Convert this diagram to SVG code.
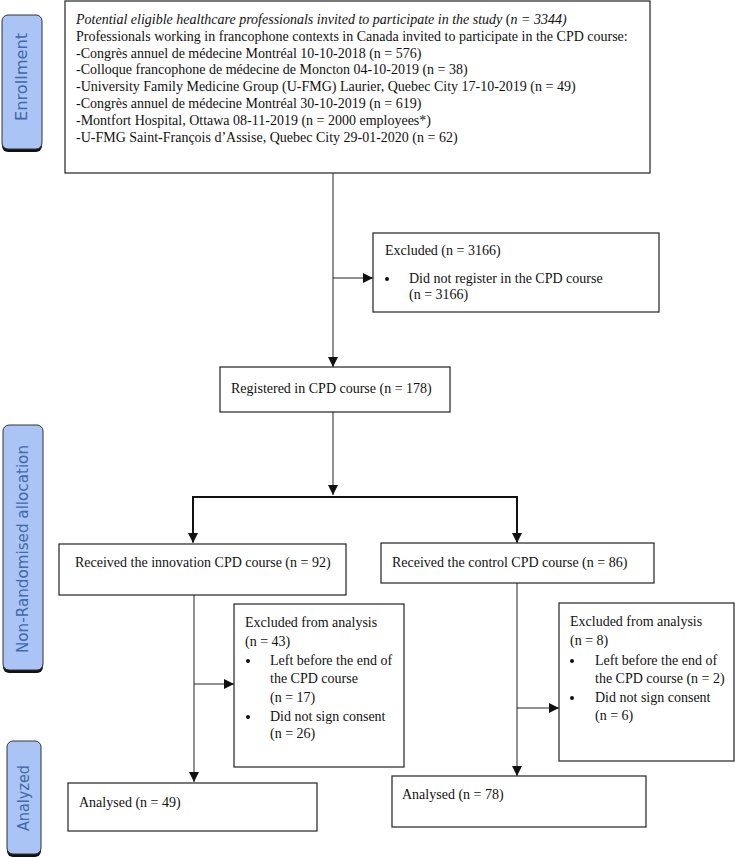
<svg xmlns="http://www.w3.org/2000/svg" width="735" height="858" viewBox="0 0 735 858">
<style>
.box{fill:#fff;stroke:#222;stroke-width:1.2}
.t{font-family:"Liberation Serif","Times New Roman",serif;font-size:14px;fill:#111}
.side{fill:#a9c4f5;stroke:#333;stroke-width:1}
.shadow{fill:#111}
.st{font-family:"DejaVu Sans",Verdana,sans-serif;font-size:15px;fill:#4468a8}
.ln{stroke:#222;stroke-width:1;fill:none}
.lnb{stroke:#111;stroke-width:2;fill:none}
.dot{fill:#111}
</style>
<defs>
<marker id="ah" markerUnits="userSpaceOnUse" markerWidth="10" markerHeight="10" viewBox="0 0 10 10" refX="10" refY="5" orient="auto">
<path d="M0,0 L10,5 L0,10 Z" fill="#111"/>
</marker>
</defs>
<rect width="735" height="858" fill="#fff"/>

<g id="label-enrollment">
<rect class="shadow" x="2" y="18" width="40" height="134" rx="6"/>
<rect class="side" x="2" y="15" width="40" height="134" rx="6"/>
<text class="st" transform="translate(27,121) rotate(-90)" textLength="88" lengthAdjust="spacingAndGlyphs">Enrollment</text>
</g>
<g id="label-allocation">
<rect class="shadow" x="3" y="429" width="40" height="244" rx="6"/>
<rect class="side" x="3" y="425" width="40" height="245" rx="6"/>
<text class="st" transform="translate(28,653) rotate(-90)" textLength="208" lengthAdjust="spacingAndGlyphs">Non-Randomised allocation</text>
</g>
<g id="label-analyzed">
<rect class="shadow" x="7" y="744" width="34" height="113" rx="6"/>
<rect class="side" x="7" y="741" width="34" height="113" rx="6"/>
<text class="st" transform="translate(29,831) rotate(-90)" textLength="66" lengthAdjust="spacingAndGlyphs">Analyzed</text>
</g>

<g id="connectors">
<line class="ln" x1="333" y1="173" x2="333" y2="367" marker-end="url(#ah)"/>
<line class="ln" x1="333" y1="278" x2="373" y2="278" marker-end="url(#ah)"/>
<line class="ln" x1="333" y1="412" x2="333" y2="495" marker-end="url(#ah)"/>
<polyline class="lnb" points="193,542 193,497 517,497 517,542"/>
<line class="ln" x1="193" y1="530" x2="193" y2="543" marker-end="url(#ah)"/>
<line class="ln" x1="517" y1="530" x2="517" y2="543" marker-end="url(#ah)"/>
<line class="ln" x1="194" y1="595" x2="194" y2="782" marker-end="url(#ah)"/>
<line class="ln" x1="194" y1="684" x2="234" y2="684" marker-end="url(#ah)"/>
<line class="ln" x1="517" y1="583" x2="517" y2="776" marker-end="url(#ah)"/>
<line class="ln" x1="517" y1="708" x2="559" y2="708" marker-end="url(#ah)"/>
</g>

<g id="node-invited">
<rect class="box" x="65" y="1" width="585" height="172"/>
<text class="t" x="76" y="24"><tspan font-style="italic">Potential eligible healthcare professionals invited to participate in the study </tspan>(<tspan font-style="italic">n = 3344)</tspan></text>
<text class="t" x="76" y="40.8">Professionals working in francophone contexts in Canada invited to participate in the CPD course:</text>
<text class="t" x="76" y="57.6">-Congrès annuel de médecine Montréal 10-10-2018 (n = 576)</text>
<text class="t" x="76" y="74.4">-Colloque francophone de médecine de Moncton 04-10-2019 (n = 38)</text>
<text class="t" x="76" y="91.2">-University Family Medicine Group (U-FMG) Laurier, Quebec City 17-10-2019 (n = 49)</text>
<text class="t" x="76" y="108">-Congrès annuel de médecine Montréal 30-10-2019 (n = 619)</text>
<text class="t" x="76" y="124.8">-Montfort Hospital, Ottawa 08-11-2019 (n = 2000 employees*)</text>
<text class="t" x="76" y="141.6">-U-FMG Saint-François d’Assise, Quebec City 29-01-2020 (n = 62)</text>
</g>

<g id="node-excluded">
<rect class="box" x="373" y="233" width="286" height="79"/>
<text class="t" x="385" y="255">Excluded (n = 3166)</text>
<circle class="dot" cx="387" cy="279" r="2"/>
<text class="t" x="409" y="283">Did not register in the CPD course</text>
<text class="t" x="409" y="299">(n = 3166)</text>
</g>

<g id="node-registered">
<rect class="box" x="220" y="367" width="230" height="45"/>
<text class="t" x="231" y="393">Registered in CPD course (n = 178)</text>
</g>

<g id="node-innovation">
<rect class="box" x="59" y="544" width="287" height="51"/>
<text class="t" x="75" y="567">Received the innovation CPD course (n = 92)</text>
</g>

<g id="node-control">
<rect class="box" x="381" y="543" width="273" height="40"/>
<text class="t" x="392" y="567">Received the control CPD course (n = 86)</text>
</g>

<g id="node-excl-innovation">
<rect class="box" x="234" y="604" width="170" height="163"/>
<text class="t" x="245" y="627">Excluded from analysis</text>
<text class="t" x="245" y="646">(n = 43)</text>
<circle class="dot" cx="248" cy="661" r="2"/>
<text class="t" x="270" y="665">Left before the end of</text>
<text class="t" x="270" y="683">the CPD course</text>
<text class="t" x="270" y="702">(n = 17)</text>
<circle class="dot" cx="248" cy="717" r="2"/>
<text class="t" x="270" y="721">Did not sign consent</text>
<text class="t" x="270" y="738">(n = 26)</text>
</g>

<g id="node-excl-control">
<rect class="box" x="559" y="603" width="175" height="158"/>
<text class="t" x="570" y="626">Excluded from analysis</text>
<text class="t" x="570" y="645">(n = 8)</text>
<circle class="dot" cx="572" cy="661" r="2"/>
<text class="t" x="595" y="665">Left before the end of</text>
<text class="t" x="595" y="683">the CPD course (n = 2)</text>
<circle class="dot" cx="572" cy="698" r="2"/>
<text class="t" x="595" y="702">Did not sign consent</text>
<text class="t" x="595" y="720">(n = 6)</text>
</g>

<g id="node-analysed-innovation">
<rect class="box" x="68" y="783" width="249" height="48"/>
<text class="t" x="79" y="807">Analysed (n = 49)</text>
</g>

<g id="node-analysed-control">
<rect class="box" x="392" y="776" width="254" height="51"/>
<text class="t" x="402" y="799">Analysed (n = 78)</text>
</g>
</svg>
